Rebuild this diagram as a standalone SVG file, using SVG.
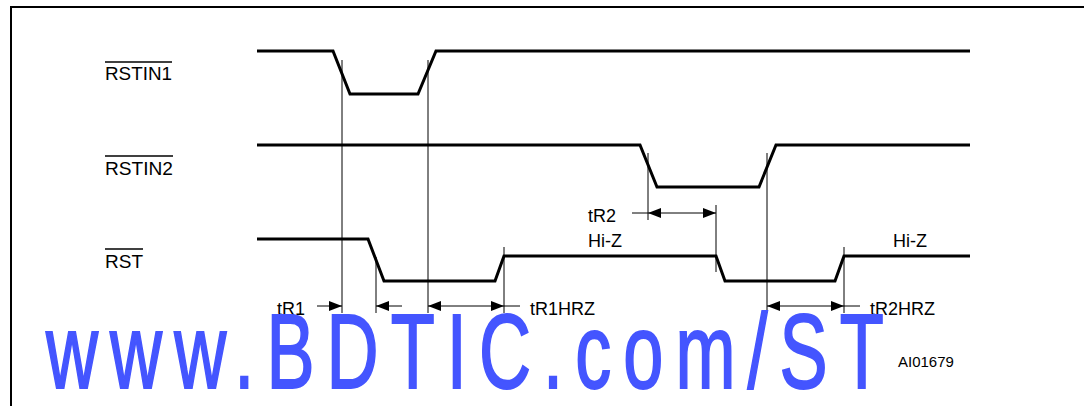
<svg xmlns="http://www.w3.org/2000/svg" width="1084" height="406" viewBox="0 0 1084 406">
<style>
.wave{fill:none;stroke:#000;stroke-width:3;stroke-linejoin:miter}
.thin{fill:none;stroke:#000;stroke-width:1}
.lbl{font-family:"Liberation Sans",Arial,sans-serif;font-size:18px;fill:#000}
.ovl{stroke:#000;stroke-width:1.5}
.wm{font-family:"Liberation Sans",Arial,sans-serif;font-size:106px;fill:#4455ff;stroke:#4455ff;stroke-width:2}
</style>
<defs>
<marker id="ah" markerWidth="13" markerHeight="10" refX="13" refY="5" orient="auto-start-reverse" markerUnits="userSpaceOnUse">
<path d="M0,0 L13,5 L0,10 z" fill="#000"/>
</marker>
</defs>
<rect width="1084" height="406" fill="#fff"/>
<path d="M11,406 V7 H1084" fill="none" stroke="#000" stroke-width="2"/>

<g id="sig-rstin1">
<text class="lbl" x="105" y="80" textLength="67" lengthAdjust="spacingAndGlyphs">RSTIN1</text>
<line class="ovl" x1="105" y1="62" x2="172" y2="62"/>
<path class="wave" d="M257,51 H333 L350,94 H418 L436,51 H970"/>
</g>
<g id="sig-rstin2">
<text class="lbl" x="105" y="175" textLength="68" lengthAdjust="spacingAndGlyphs">RSTIN2</text>
<line class="ovl" x1="105" y1="156" x2="173" y2="156"/>
<path class="wave" d="M257,145 H640 L657,187 H759 L776,145 H970"/>
</g>
<g id="sig-rst">
<text class="lbl" x="105" y="268" textLength="38" lengthAdjust="spacingAndGlyphs">RST</text>
<line class="ovl" x1="105" y1="249" x2="143" y2="249"/>
<path class="wave" d="M257,239 H368 L384,281 H495 L504,256 H716 L725,281 H835 L844,256 H970"/>
<text class="lbl" x="588" y="247">Hi-Z</text>
<text class="lbl" x="893" y="247">Hi-Z</text>
</g>

<g id="connectors">
<line class="thin" x1="342" y1="60" x2="342" y2="313"/>
<line class="thin" x1="428" y1="60" x2="428" y2="313"/>
<line class="thin" x1="376" y1="257" x2="376" y2="313"/>
<line class="thin" x1="504" y1="247" x2="504" y2="313"/>
<line class="thin" x1="648" y1="153" x2="648" y2="220"/>
<line class="thin" x1="716" y1="205" x2="716" y2="272"/>
<line class="thin" x1="767" y1="153" x2="767" y2="313"/>
<line class="thin" x1="844" y1="247" x2="844" y2="313"/>

<line class="thin" x1="317" y1="306" x2="342" y2="306" marker-end="url(#ah)"/>
<line class="thin" x1="402" y1="306" x2="376" y2="306" marker-end="url(#ah)"/>
<line class="thin" x1="428" y1="306" x2="504" y2="306" marker-start="url(#ah)" marker-end="url(#ah)"/>
<line class="thin" x1="504" y1="306" x2="520" y2="306"/>
<line class="thin" x1="632" y1="213" x2="648" y2="213"/>
<line class="thin" x1="648" y1="213" x2="716" y2="213" marker-start="url(#ah)" marker-end="url(#ah)"/>
<line class="thin" x1="767" y1="306" x2="844" y2="306" marker-start="url(#ah)" marker-end="url(#ah)"/>
<line class="thin" x1="844" y1="306" x2="860" y2="306"/>
</g>

<g id="timing-labels">
<text class="lbl" x="277" y="315">tR1</text>
<text class="lbl" x="530" y="315">tR1HRZ</text>
<text class="lbl" x="588" y="222">tR2</text>
<text class="lbl" x="870" y="315">tR2HRZ</text>
<text x="898" y="367" style="font-family:'Liberation Sans',Arial,sans-serif;font-size:15px;fill:#000">AI01679</text>
</g>

<text class="wm" x="0" y="0" transform="translate(46,388) scale(0.68,1)" textLength="1232" lengthAdjust="spacing">www.BDTIC.com/ST</text>
</svg>
